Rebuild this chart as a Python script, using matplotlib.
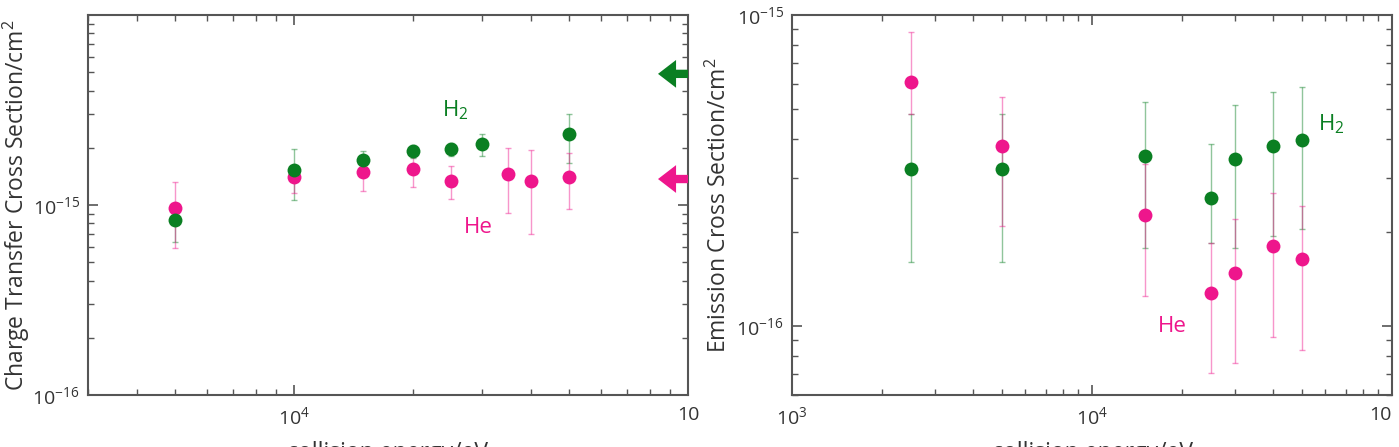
import matplotlib
matplotlib.use("Agg")
import matplotlib.pyplot as plt
import numpy as np
from matplotlib.ticker import LogLocator, FixedLocator, FixedFormatter, NullFormatter

plt.rcParams['font.family'] = ['Open Sans', 'DejaVu Sans']
plt.rcParams['mathtext.fontset'] = 'custom'
plt.rcParams['mathtext.rm'] = 'Open Sans'
plt.rcParams['mathtext.it'] = 'Open Sans:italic'
plt.rcParams['mathtext.bf'] = 'Open Sans:bold'

GREEN = '#0a7f22'
PINK = '#ee168c'
DARK = '#333333'

# ---------------- Left panel: charge transfer cross section ----------------
ct_he_x = [5000, 10000, 15000, 20000, 25000, 35000, 40000, 50000]
ct_he_y = [0.96e-15, 1.40e-15, 1.49e-15, 1.55e-15, 1.34e-15, 1.46e-15, 1.34e-15, 1.40e-15]
ct_he_lo = [0.594e-15, 1.16e-15, 1.19e-15, 1.24e-15, 1.07e-15, 0.91e-15, 0.70e-15, 0.95e-15]
ct_he_hi = [1.32e-15, 1.62e-15, 1.72e-15, 1.78e-15, 1.60e-15, 2.00e-15, 1.95e-15, 1.88e-15]

ct_h2_x = [5000, 10000, 15000, 20000, 25000, 30000, 50000]
ct_h2_y = [0.834e-15, 1.53e-15, 1.73e-15, 1.92e-15, 1.97e-15, 2.10e-15, 2.37e-15]
ct_h2_lo = [0.638e-15, 1.06e-15, 1.56e-15, 1.76e-15, 1.82e-15, 1.81e-15, 1.66e-15]
ct_h2_hi = [1.00e-15, 1.97e-15, 1.92e-15, 2.08e-15, 2.12e-15, 2.37e-15, 3.00e-15]

ct_arrow_h2 = 4.9e-15
ct_arrow_he = 1.37e-15

# ---------------- Right panel: emission cross section ----------------
em_he_x = [2500, 5000, 15000, 25000, 30000, 40000, 50000]
em_he_y = [6.09e-16, 3.8e-16, 2.27e-16, 1.28e-16, 1.48e-16, 1.81e-16, 1.64e-16]
em_he_lo = [4.8e-16, 2.09e-16, 1.25e-16, 0.706e-16, 0.76e-16, 0.92e-16, 0.84e-16]
em_he_hi = [8.8e-16, 5.46e-16, 3.31e-16, 1.85e-16, 2.21e-16, 2.68e-16, 2.44e-16]

em_h2_x = [2500, 5000, 15000, 25000, 30000, 40000, 50000]
em_h2_y = [3.2e-16, 3.2e-16, 3.52e-16, 2.58e-16, 3.45e-16, 3.8e-16, 3.95e-16]
em_h2_lo = [1.61e-16, 1.61e-16, 1.78e-16, 1.85e-16, 1.78e-16, 1.95e-16, 2.05e-16]
em_h2_hi = [4.8e-16, 4.8e-16, 5.25e-16, 3.85e-16, 5.14e-16, 5.66e-16, 5.86e-16]

W, H = 1399, 447
fig = plt.figure(figsize=(W / 100, H / 100), dpi=100)

axL = fig.add_axes([88 / W, 1 - 395 / H, 600 / W, 380 / H])
axR = fig.add_axes([792 / W, 1 - 395 / H, 600 / W, 380 / H])


def errbar(ax, x, y, lo, hi, color):
    y = np.array(y)
    yerr = [y - np.array(lo), np.array(hi) - y]
    ax.errorbar(x, y, yerr=yerr, fmt='none', ecolor=color, elinewidth=1.0,
                capsize=2, capthick=1.0, alpha=0.45, zorder=2)


def markers(ax, x, y, color):
    ax.plot(x, y, 'o', color=color, markersize=10, markeredgewidth=0, zorder=3)


def style(ax, xlim, ylim, xmajor, xlabels, ymajor, ylabels):
    ax.set_xscale('log')
    ax.set_yscale('log')
    ax.set_xlim(*xlim)
    ax.set_ylim(*ylim)
    ax.xaxis.set_major_locator(FixedLocator(xmajor))
    ax.xaxis.set_major_formatter(FixedFormatter(xlabels))
    ax.yaxis.set_major_locator(FixedLocator(ymajor))
    ax.yaxis.set_major_formatter(FixedFormatter(ylabels))
    ax.xaxis.set_minor_locator(LogLocator(base=10, subs=np.arange(2, 10)))
    ax.yaxis.set_minor_locator(LogLocator(base=10, subs=np.arange(2, 10)))
    ax.xaxis.set_minor_formatter(NullFormatter())
    ax.yaxis.set_minor_formatter(NullFormatter())
    ax.tick_params(which='both', direction='in', top=True, right=True,
                   color='#555555', labelcolor=DARK, labelsize=14)
    ax.tick_params(which='major', length=7, width=1.2)
    ax.tick_params(which='minor', length=4, width=1.0)
    ax.tick_params(axis='x', pad=8)
    ax.tick_params(axis='y', pad=6)
    for sp in ax.spines.values():
        sp.set_color('#555555')
        sp.set_linewidth(1.5)


# Left
errbar(axL, ct_h2_x, ct_h2_y, ct_h2_lo, ct_h2_hi, GREEN)
errbar(axL, ct_he_x, ct_he_y, ct_he_lo, ct_he_hi, PINK)
markers(axL, ct_he_x, ct_he_y, PINK)
markers(axL, ct_h2_x, ct_h2_y, GREEN)
style(axL, (3000, 1e5), (1e-16, 1e-14),
      [1e4, 1e5], [r'$10^4$', '10'],
      [1e-16, 1e-15, 1e-14], [r'$10^{-16}$', r'$10^{-15}$', ''])
axL.set_ylabel(r'Charge Transfer Cross Section/cm$^2$', fontsize=16.5, color=DARK)
axL.yaxis.set_label_coords(-0.093, 0.5)
axL.set_xlabel('collision energy/eV', fontsize=16.5, color=DARK, labelpad=9)
axL.text(25700, 3.16e-15, r'H$_2$', color=GREEN, fontsize=16, ha='center', va='center')
axL.text(29400, 0.757e-15, 'He', color=PINK, fontsize=16, ha='center', va='center')

for yv, col in [(ct_arrow_h2, GREEN), (ct_arrow_he, PINK)]:
    axL.annotate('', xy=(0.950, yv), xytext=(1.0, yv),
                 xycoords=('axes fraction', 'data'), textcoords=('axes fraction', 'data'),
                 arrowprops=dict(arrowstyle='simple,head_length=1.3,head_width=2.0,tail_width=0.6',
                                 mutation_scale=10, color=col, shrinkA=0, shrinkB=0, lw=0),
                 annotation_clip=False, zorder=4)

# Right
errbar(axR, em_h2_x, em_h2_y, em_h2_lo, em_h2_hi, GREEN)
errbar(axR, em_he_x, em_he_y, em_he_lo, em_he_hi, PINK)
markers(axR, em_he_x, em_he_y, PINK)
markers(axR, em_h2_x, em_h2_y, GREEN)
style(axR, (1e3, 1e5), (6e-17, 1e-15),
      [1e3, 1e4, 1e5], [r'$10^3$', r'$10^4$', '10'],
      [1e-16, 1e-15], [r'$10^{-16}$', r'$10^{-15}$'])
axR.set_ylabel(r'Emission Cross Section/cm$^2$', fontsize=16.5, color=DARK)
axR.yaxis.set_label_coords(-0.100, 0.5)
axR.set_xlabel('collision energy/eV', fontsize=16.5, color=DARK, labelpad=9)
axR.text(63000, 4.45e-16, r'H$_2$', color=GREEN, fontsize=16, ha='center', va='center')
axR.text(18500, 1.0e-16, 'He', color=PINK, fontsize=16, ha='center', va='center')

# keep the right-most "10" inside the figure
fig.canvas.draw()
axR.get_xticklabels()[-1].set_horizontalalignment('right')

fig.savefig('out.png', dpi=100)
